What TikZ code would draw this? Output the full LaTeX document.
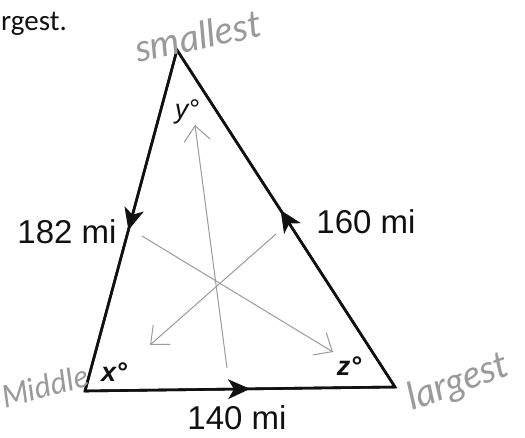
\documentclass[tikz,border=0pt]{standalone}
\usepackage{fontspec}
\setmainfont{Liberation Sans}
\newfontfamily\bookfont{Carlito}
\newfontfamily\handfont{Lato}
\usepackage{xcolor}
\usetikzlibrary{positioning,arrows.meta,decorations.markings}
\definecolor{PenGray}{HTML}{9A9A9A}
\definecolor{InkDark}{HTML}{111111}

\tikzset{
  side/.style={draw=InkDark, line width=2.6pt, line join=miter,
    postaction={decorate},
    decoration={markings, mark=at position 0.5 with
      {\fill[InkDark] (10pt,0pt) -- (-12pt,10pt) -- (-6pt,0pt) -- (-12pt,-10pt) -- cycle;}}},
  dist/.style={text=InkDark, font=\fontsize{33}{36}\selectfont, inner sep=0pt},
  angl/.style={text=InkDark, font=\fontsize{27}{30}\selectfont\itshape, inner sep=0pt},
  hand/.style={text=PenGray, font=\handfont\itshape\fontsize{28}{30}\selectfont, inner sep=0pt},
  pencil/.style={draw=PenGray, line width=1pt, -{Straight Barb[length=15pt,width=26pt]}}
}

\begin{document}
\begin{tikzpicture}[x=1pt,y=-1pt]
  \useasboundingbox (0,0) rectangle (525,438);

  % triangle corners
  \coordinate (top) at (177,50);
  \coordinate (lft) at (85,391);
  \coordinate (rgt) at (395,387);

  \draw[side] (top) -- (lft);
  \draw[side] (lft) -- (rgt);
  \draw[side] (rgt) -- (top);
  \draw[draw=InkDark, line width=2.6pt, line join=miter] (top) -- (lft) -- (rgt) -- cycle;

  % side lengths
  \node[dist] (left len) at (67,232) {182 mi};
  \node[dist] (right len) at (366,222) {160 mi};
  \node[dist] (base len) at (237,418) {140 mi};

  % angles
  \node[angl] (ang y) at (187,112) {y\textdegree};
  \node[angl, font=\fontsize{27}{30}\selectfont\bfseries\itshape] (ang x) at (114,372) {x\textdegree};
  \node[angl, font=\fontsize{27}{30}\selectfont\bfseries\itshape] (ang z) at (349,366) {z\textdegree};

  % handwritten notes
  \node[hand, rotate=12, font=\handfont\itshape\fontsize{38}{40}\selectfont] (note top) at (198,36) {smallest};
  \node[hand, rotate=15, font=\handfont\itshape\fontsize{31}{33}\selectfont] (note lft) at (45,386) {Middle};
  \node[hand, rotate=20, font=\handfont\itshape\fontsize{38}{40}\selectfont] (note rgt) at (458,383) {largest};

  % pencil arrows
  \coordinate (p1s) at (227,368);
  \coordinate (p1e) at (195,125);
  \coordinate (p2s) at (142,236);
  \coordinate (p2e) at (333,352);
  \coordinate (p3s) at (276,234);
  \coordinate (p3e) at (150,345);
  \draw[pencil] (p1s) -- (p1e);
  \draw[pencil] (p2s) -- (p2e);
  \draw[pencil] (p3s) -- (p3e);

  % text above
  \node[text=InkDark, font=\bookfont\fontsize{29}{32}\selectfont, anchor=west, inner sep=0pt] (prev line) at (1,24) {rgest.};
\end{tikzpicture}
\end{document}
